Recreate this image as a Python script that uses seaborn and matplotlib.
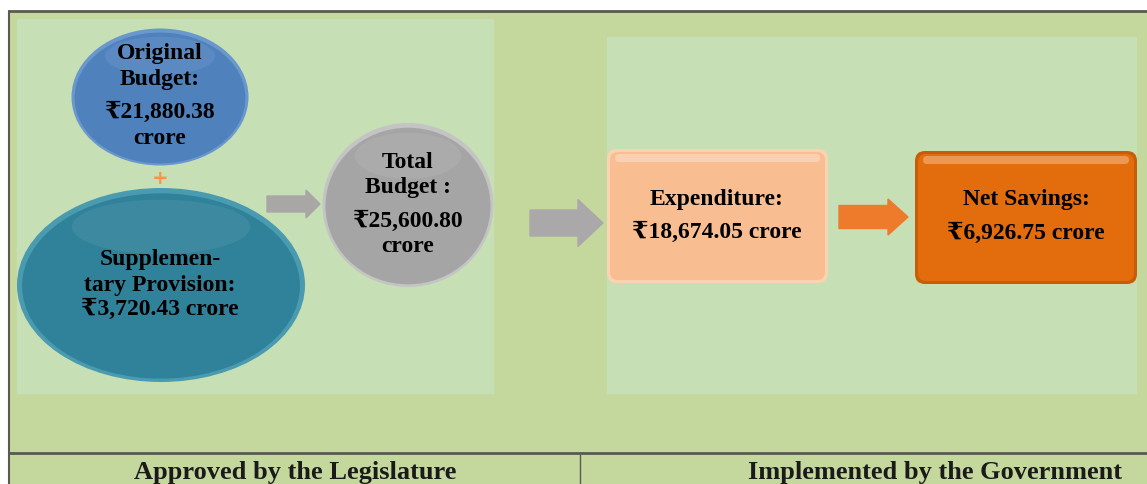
import matplotlib.pyplot as plt
import seaborn as sns
from matplotlib.patches import Ellipse, FancyBboxPatch, FancyArrow, Rectangle

# Budget figures (crore)
original_budget = 21880.38
supplementary = 3720.43
total_budget = 25600.80
expenditure = 18674.05
net_savings = 6926.75

footer_labels = ["Approved by the Legislature", "Implemented by the Government"]


def rupee(v):
    return f"\u20b9{v:,.2f}"


sns.set_theme(style="white")
plt.rcParams['font.family'] = ['Liberation Serif', 'DejaVu Serif', 'DejaVu Sans']

fig = plt.figure(figsize=(11.47, 4.84), dpi=100)
ax = fig.add_axes([0, 0, 1, 1])
ax.set_xlim(0, 1147)
ax.set_ylim(484, 0)
ax.axis('off')

# background panels
ax.add_patch(Rectangle((9, 11), 1140, 475, color='#c4d89d', zorder=0))
ax.add_patch(Rectangle((17, 19), 476, 374, color='#c6dfb4', zorder=1))
ax.add_patch(Rectangle((607, 37), 529, 356, color='#c6dfb4', zorder=1))

# frame lines
ax.plot([9, 1147], [11, 11], color='#5a5a50', lw=2, zorder=2)
ax.plot([9, 9], [11, 484], color='#5a5a50', lw=1.5, zorder=2)
ax.plot([9, 1147], [453, 453], color='#5a5a50', lw=2, zorder=2)
ax.plot([580, 580], [453, 484], color='#5a5a50', lw=1, zorder=2)


def glossy_ellipse(cx, cy, w, h, face, edge):
    ax.add_patch(Ellipse((cx, cy), w, h, facecolor=edge, edgecolor='none', zorder=3))
    ax.add_patch(Ellipse((cx, cy + 1), w * 0.965, h * 0.955, facecolor=face, edgecolor='none', zorder=4))
    ax.add_patch(Ellipse((cx, cy - h * 0.30), w * 0.62, h * 0.28, facecolor='white',
                         alpha=0.07, edgecolor='none', zorder=5))


def glossy_box(x0, y0, w, h, face, edge):
    ax.add_patch(FancyBboxPatch((x0, y0), w, h, boxstyle="round,pad=0,rounding_size=10",
                                facecolor=edge, edgecolor='none', zorder=3))
    ax.add_patch(FancyBboxPatch((x0 + 3, y0 + 3), w - 6, h - 6, boxstyle="round,pad=0,rounding_size=8",
                                facecolor=face, edgecolor='none', zorder=4))
    ax.add_patch(FancyBboxPatch((x0 + 8, y0 + 5), w - 16, 8, boxstyle="round,pad=0,rounding_size=4",
                                facecolor='white', alpha=0.3, edgecolor='none', zorder=5))


# shapes
glossy_ellipse(160, 97, 177, 137, '#4f81bd', '#6b98cc')
glossy_ellipse(161, 285, 288, 194, '#2f8299', '#4a9bb0')
glossy_ellipse(408, 205, 171, 164, '#a5a5a5', '#c4c4c4')
glossy_box(607, 149, 221, 134, '#f9bd92', '#fbd3b3')
glossy_box(915, 151, 222, 133, '#e36c0c', '#c85c08')

# arrows
ax.add_patch(FancyArrow(267, 204, 53, 0, width=16, head_width=28, head_length=14,
                        length_includes_head=True, color='#a9a6a6', zorder=3))
ax.add_patch(FancyArrow(530, 223, 73, 0, width=26, head_width=47, head_length=25,
                        length_includes_head=True, color='#aba8a9', zorder=3))
ax.add_patch(FancyArrow(839, 217, 69, 0, width=23, head_width=36, head_length=20,
                        length_includes_head=True, color='#ee7a2c', zorder=3))

ax.text(160, 178, '+', color='#f79646', fontsize=14, fontweight='bold', family='DejaVu Sans',
        ha='center', va='center', zorder=6)

txt = dict(fontsize=17, fontweight='bold', ha='center', va='center', color='black', zorder=7)

for y, s in zip([54, 80, 112, 139], ['Original', 'Budget:', rupee(original_budget), 'crore']):
    ax.text(160, y, s, **txt)
for y, s in zip([260, 285, 309], ['Supplemen-', 'tary Provision:', rupee(supplementary) + ' crore']):
    ax.text(160, y, s, **txt)
for y, s in zip([162, 187, 221, 246], ['Total', 'Budget :', rupee(total_budget), 'crore']):
    ax.text(408, y, s, **txt)
for y, s in zip([199, 232], ['Expenditure:', rupee(expenditure) + ' crore']):
    ax.text(717, y, s, **txt)
for y, s in zip([200, 233], ['Net Savings:', rupee(net_savings) + ' crore']):
    ax.text(1026, y, s, **txt)

ax.text(295, 472, footer_labels[0], fontsize=19, fontweight='bold', ha='center', va='center',
        color='#1a1a1a', zorder=7)
ax.text(935, 472, footer_labels[1], fontsize=19, fontweight='bold', ha='center', va='center',
        color='#1a1a1a', zorder=7)

fig.savefig('out.png', dpi=100)
